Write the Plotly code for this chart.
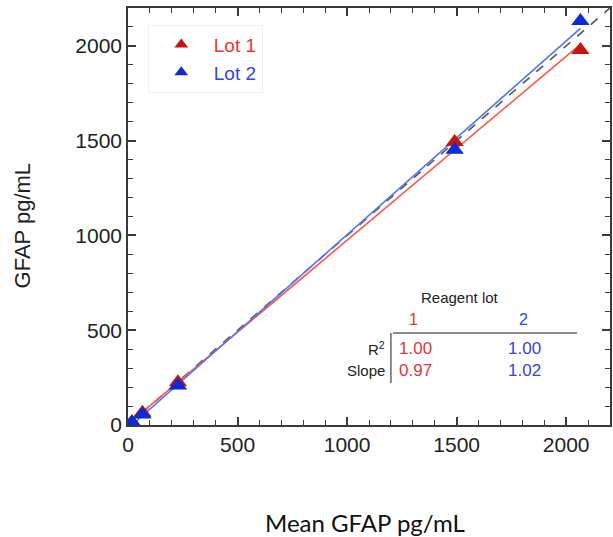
import numpy as np
import plotly.graph_objects as go

# Data
mean_gfap = [18, 66, 228, 1491, 2065]
lot1 = [15, 65, 225, 1493, 1978]
lot2 = [15, 55, 208, 1452, 2132]
x_ticks = [0, 500, 1000, 1500, 2000]
y_ticks = [0, 500, 1000, 1500, 2000]
r2_values = ["1.00", "1.00"]
slope_values = ["0.97", "1.02"]

RED_M = "#c8160c"
BLUE_M = "#0b2bd6"
RED_L = "#ff5544"
BLUE_L = "#5577f2"
RED_T = "#e53535"
BLUE_T = "#3344e0"

fig = go.Figure()

# identity line
fig.add_trace(go.Scatter(x=[0, 2200], y=[0, 2200], mode="lines",
                         line=dict(color="#555555", width=1.6, dash="dash"),
                         showlegend=False, hoverinfo="skip"))

for ys, lc in [(lot1, RED_L), (lot2, BLUE_L)]:
    m, b = np.polyfit(mean_gfap, ys, 1)
    xx = np.array([0, max(mean_gfap)])
    fig.add_trace(go.Scatter(x=xx, y=m * xx + b, mode="lines",
                             line=dict(color=lc, width=1.6),
                             showlegend=False, hoverinfo="skip"))

fig.add_trace(go.Scatter(x=mean_gfap, y=lot1, mode="markers",
                         name=f'<span style="color:{RED_T}">Lot 1</span>',
                         marker=dict(symbol="triangle-up", size=16, color=RED_M)))
fig.add_trace(go.Scatter(x=mean_gfap, y=lot2, mode="markers",
                         name=f'<span style="color:{BLUE_T}">Lot 2</span>',
                         marker=dict(symbol="triangle-up", size=16, color=BLUE_M)))

axis_common = dict(
    showgrid=False, zeroline=False, showline=True, linecolor="#3a3a3a", linewidth=1.5,
    mirror="ticks", ticks="inside", ticklen=8, tickwidth=1.5, tickcolor="#3a3a3a",
    tickfont=dict(family="Liberation Sans, Arial", size=21, color="#222222"),
    minor=dict(dtick=100, ticks="inside", ticklen=5, tickwidth=1.2, tickcolor="#3a3a3a"),
)

fig.update_xaxes(range=[0, 2200], tickvals=x_ticks, **axis_common)
fig.update_yaxes(range=[0, 2200], tickvals=y_ticks, **axis_common)

fig.update_layout(
    width=613, height=537,
    margin=dict(l=128, r=1, t=8, b=112),
    plot_bgcolor="white", paper_bgcolor="white",
    legend=dict(x=0.041, y=0.96, xanchor="left", yanchor="top",
                bgcolor="white", bordercolor="#f0f0f0", borderwidth=1,
                font=dict(family="Liberation Sans, Arial", size=19),
                itemwidth=55, itemsizing="constant", tracegroupgap=0),
)

tf = "Liberation Sans, Arial"
ann = []
ann.append(dict(text="Reagent lot", x=1514, y=675, xref="x", yref="y", showarrow=False,
                font=dict(family=tf, size=15, color="#222222")))
ann.append(dict(text="1", x=1305, y=554, xref="x", yref="y", showarrow=False,
                font=dict(family=tf, size=16, color=RED_T)))
ann.append(dict(text="2", x=1805, y=554, xref="x", yref="y", showarrow=False,
                font=dict(family=tf, size=16, color=BLUE_T)))
ann.append(dict(text="R<sup>2</sup>", x=1180, y=404, xref="x", yref="y", showarrow=False,
                xanchor="right", font=dict(family=tf, size=15, color="#222222")))
ann.append(dict(text="Slope", x=1180, y=290, xref="x", yref="y", showarrow=False,
                xanchor="right", font=dict(family=tf, size=15, color="#222222")))
for i, (r2, sl) in enumerate(zip(r2_values, slope_values)):
    col = RED_T if i == 0 else BLUE_T
    xc = 1310 if i == 0 else 1810
    ann.append(dict(text=r2, x=xc, y=401, xref="x", yref="y", showarrow=False,
                    font=dict(family=tf, size=17, color=col)))
    ann.append(dict(text=sl, x=xc, y=290, xref="x", yref="y", showarrow=False,
                    font=dict(family=tf, size=17, color=col)))

ann.append(dict(text="Mean GFAP pg/mL", x=(366 - 128) / 484, y=(425 - 522) / 417,
                xref="paper", yref="paper", xanchor="center", yanchor="middle",
                showarrow=False, font=dict(family="Lato, Open Sans", size=24, color="#111111")))
ann.append(dict(text="GFAP pg/mL", x=(22 - 128) / 484, y=(425 - 225) / 417,
                xref="paper", yref="paper", xanchor="center", yanchor="middle",
                showarrow=False, textangle=-90,
                font=dict(family=tf, size=22, color="#222222")))
fig.update_layout(annotations=ann)

fig.add_shape(type="line", x0=1209, x1=2050, y0=485, y1=485, xref="x", yref="y",
              line=dict(color="#666666", width=1.5))
fig.add_shape(type="line", x0=1200, x1=1200, y0=485, y1=222, xref="x", yref="y",
              line=dict(color="#666666", width=1.5))

fig.write_html("out.html")
